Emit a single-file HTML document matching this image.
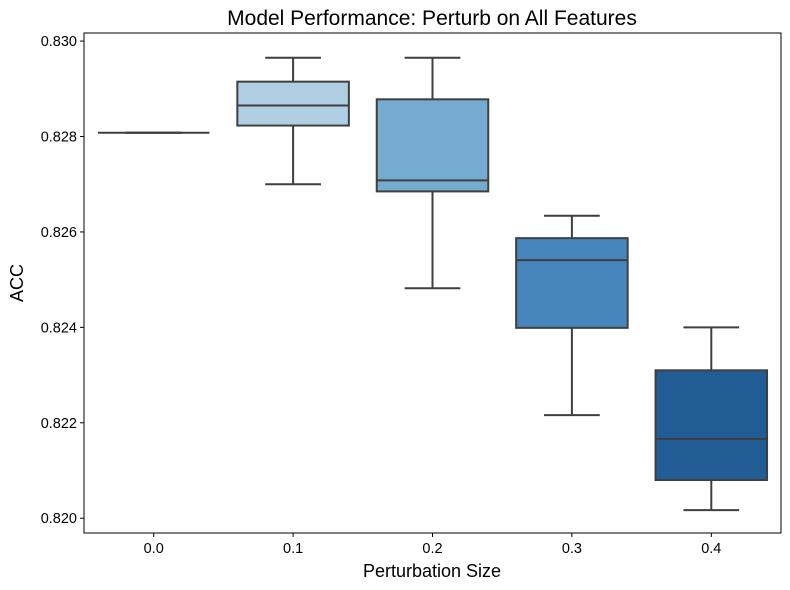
<!DOCTYPE html>
<html><head><meta charset="utf-8"><style>
body{margin:0;background:#fff;}
svg{display:block;font-family:"Liberation Sans","DejaVu Sans",sans-serif;}
</style></head><body>
<svg id="chart" width="790" height="590">
<text x="432" y="25" font-size="21" text-anchor="middle" fill="#000">Model Performance: Perturb on All Features</text>
<text x="432" y="577" font-size="18" text-anchor="middle" fill="#000">Perturbation Size</text>
<text transform="translate(23,283) rotate(-90)" font-size="18" text-anchor="middle" fill="#000">ACC</text>
<g id="marks"></g>
<rect x="84" y="33" width="697" height="500" fill="none" stroke="#000" stroke-width="1"/>
</svg>
<script>
const categories=["0.0","0.1","0.2","0.3","0.4"];
const whiskLow=[0.82808,0.82700,0.82482,0.82216,0.82017];
const q1=[0.82808,0.82823,0.82685,0.82399,0.82080];
const medians=[0.82808,0.82865,0.82708,0.82541,0.82166];
const q3=[0.82808,0.82915,0.82878,0.82587,0.82310];
const whiskHigh=[0.82808,0.82965,0.82965,0.82634,0.82400];
const yTicks=[0.820,0.822,0.824,0.826,0.828,0.830];
const colors=["#dbe9f6","#b0cfe3","#76abd0","#4686bd","#215c94"];
const NS="http://www.w3.org/2000/svg";
const X0=84,X1=781,Y0=33,Y1=533,ymin=0.81969,ymax=0.83017;
const band=(X1-X0)/categories.length;
const xc=i=>X0+band*(i+0.5);
const y=v=>Y1-(v-ymin)/(ymax-ymin)*(Y1-Y0);
const g=document.getElementById('marks');
function mk(t,a){const e=document.createElementNS(NS,t);for(const k in a)e.setAttribute(k,a[k]);g.appendChild(e);return e;}
const ln="#3f3f3f";
yTicks.forEach(t=>{
 const l=mk('line',{x1:X0-4,x2:X0,y1:y(t),y2:y(t),stroke:'#000'});
 
 
 const tx=mk('text',{x:X0-7,y:y(t)+5,'font-size':14.5,'text-anchor':'end'});tx.textContent=t.toFixed(3);
 
 
});
categories.forEach((c,i)=>{
 const x=xc(i),bw=band*0.8,cw=bw/2;
 const l=mk('line',{x1:x,x2:x,y1:Y1,y2:Y1+4,stroke:'#000'});
 
 
 const tx=mk('text',{x:x,y:Y1+20,'font-size':14.5,'text-anchor':'middle'});tx.textContent=c;
 
 
 const w1=mk('line',{x1:x,x2:x,y1:y(whiskHigh[i]),y2:y(q3[i]),stroke:ln,'stroke-width':2});
 
 
 const w2=mk('line',{x1:x,x2:x,y1:y(q1[i]),y2:y(whiskLow[i]),stroke:ln,'stroke-width':2});
 
 
 const c1=mk('line',{x1:x-cw/2,x2:x+cw/2,y1:y(whiskHigh[i]),y2:y(whiskHigh[i]),stroke:ln,'stroke-width':2});
 
 
 const c2=mk('line',{x1:x-cw/2,x2:x+cw/2,y1:y(whiskLow[i]),y2:y(whiskLow[i]),stroke:ln,'stroke-width':2});
 
 
 const b=mk('rect',{x:x-bw/2,y:y(q3[i]),width:bw,height:Math.max(0,y(q1[i])-y(q3[i])),fill:colors[i],stroke:ln,'stroke-width':2});
 
 
 const m=mk('line',{x1:x-bw/2,x2:x+bw/2,y1:y(medians[i]),y2:y(medians[i]),stroke:ln,'stroke-width':2});
 
 
});
</script>
</body></html>
